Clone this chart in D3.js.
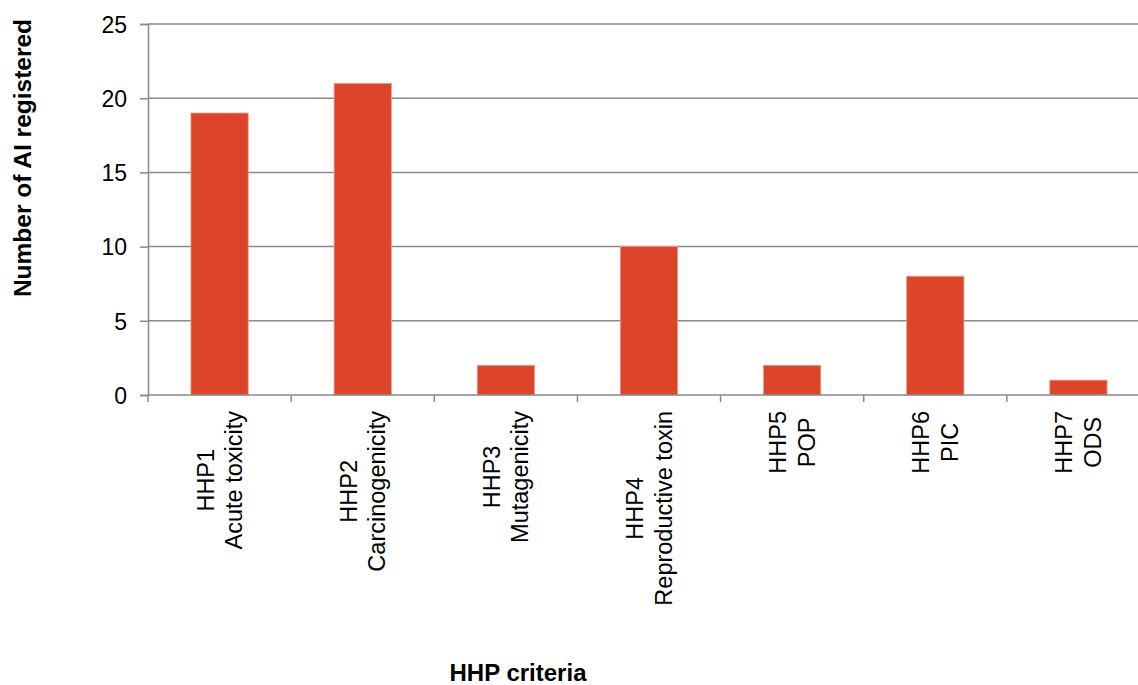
<!DOCTYPE html>
<html lang="en">

<head>
    <meta charset="UTF-8">
    <title>HHP criteria</title>
    <script src="https://cdn.jsdelivr.net/npm/d3@7"></script>
    <style>
        body { margin: 0; background: #fff; }
        text { font-family: "Liberation Sans", Arial, sans-serif; fill: #000; }
    </style>
</head>

<body>
    <svg width="1138" height="685" id="chart"></svg>

    <script type="text/javascript">
        // data
        var codes = ["HHP1", "HHP2", "HHP3", "HHP4", "HHP5", "HHP6", "HHP7"];
        var names = ["Acute toxicity", "Carcinogenicity", "Mutagenicity", "Reproductive toxin", "POP", "PIC", "ODS"];
        var counts = [19, 21, 2, 10, 2, 8, 1];
        var yTicks = [0, 5, 10, 15, 20, 25];

        var svg = d3.select("#chart");
        var plot = { left: 148, right: 1150, top: 24, bottom: 395 };

        var x = d3.scaleBand()
            .domain(codes)
            .range([plot.left, plot.right])
            .padding(0);
        var y = d3.scaleLinear()
            .domain([0, 25])
            .range([plot.bottom, plot.top]);

        // gridlines
        svg.append("g").selectAll("line")
            .data(yTicks.filter(function (d) { return d > 0; }))
            .enter().append("line")
            .attr("x1", plot.left).attr("x2", plot.right)
            .attr("y1", function (d) { return y(d); })
            .attr("y2", function (d) { return y(d); })
            .attr("stroke", "#8a8a8a")
            .attr("stroke-width", 1.5);

        // bars
        var barW = x.bandwidth() * 0.4;
        svg.append("g").selectAll("rect")
            .data(counts)
            .enter().append("rect")
            .attr("x", function (d, i) { return x(codes[i]) + (x.bandwidth() - barW) / 2; })
            .attr("y", function (d) { return y(d); })
            .attr("width", barW)
            .attr("height", function (d) { return y(0) - y(d); })
            .attr("fill", "#dc4529")
            .attr("stroke", "#ee9a88")
            .attr("stroke-width", 0.8);

        // y axis
        var yAxis = d3.axisLeft(y).tickValues(yTicks).tickSize(8).tickPadding(13);
        var gy = svg.append("g")
            .attr("transform", "translate(" + plot.left + ",0)")
            .call(yAxis);
        gy.select(".domain").attr("stroke", "#8a8a8a").attr("stroke-width", 1.5);
        gy.selectAll(".tick line").attr("stroke", "#8a8a8a").attr("stroke-width", 1.5);
        gy.selectAll(".tick text")
            .style("font-size", "23px")
            .attr("dy", "0.36em");

        // x axis line + ticks at band edges
        var gx = svg.append("g");
        gx.append("line")
            .attr("x1", plot.left).attr("x2", plot.right)
            .attr("y1", plot.bottom).attr("y2", plot.bottom)
            .attr("stroke", "#8a8a8a").attr("stroke-width", 1.5);
        gx.selectAll(".edge")
            .data(codes.concat(["end"]))
            .enter().append("line")
            .attr("class", "edge")
            .attr("x1", function (d, i) { return plot.left + i * x.step(); })
            .attr("x2", function (d, i) { return plot.left + i * x.step(); })
            .attr("y1", plot.bottom).attr("y2", plot.bottom + 7)
            .attr("stroke", "#8a8a8a").attr("stroke-width", 1.5);

        // category labels, rotated, two lines each, block top-aligned
        var labTop = 411;
        codes.forEach(function (c, i) {
            var cx = x(c) + x.bandwidth() / 2;
            var t = gx.append("text")
                .attr("text-anchor", "middle")
                .style("font-size", "23.5px");
            t.append("tspan").attr("x", 0).attr("y", -6).text(c);
            t.append("tspan").attr("x", 0).attr("y", 22.5).text(names[i]);
            var maxLen = 0;
            t.selectAll("tspan").each(function () {
                maxLen = Math.max(maxLen, this.getComputedTextLength());
            });
            t.attr("transform", "translate(" + cx + "," + (labTop + maxLen / 2) + ") rotate(-90)");
        });

        // axis titles
        svg.append("text")
            .attr("transform", "translate(31,158) rotate(-90)")
            .attr("text-anchor", "middle")
            .style("font-size", "24.5px")
            .style("font-weight", "bold")
            .text("Number of AI registered");

        svg.append("text")
            .attr("x", 518).attr("y", 681)
            .attr("text-anchor", "middle")
            .style("font-size", "24px")
            .style("font-weight", "bold")
            .text("HHP criteria");
    </script>
</body>

</html>
